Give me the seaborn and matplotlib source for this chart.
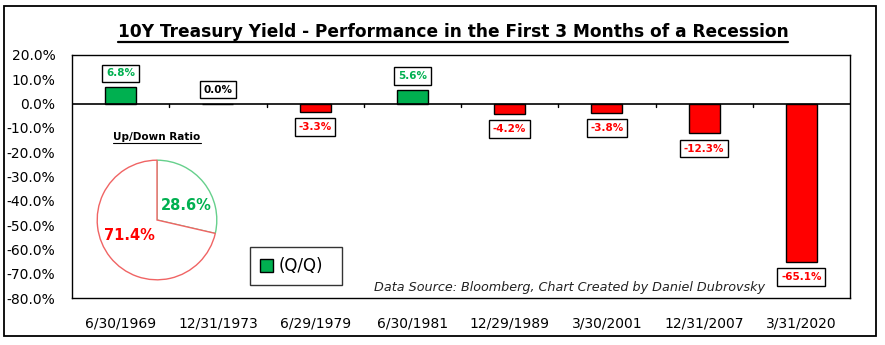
import matplotlib
matplotlib.use("Agg")
import matplotlib.pyplot as plt
import seaborn as sns
import pandas as pd
from matplotlib.patches import Rectangle, Patch
from matplotlib.lines import Line2D
from matplotlib.ticker import FuncFormatter

dates = ["6/30/1969", "12/31/1973", "6/29/1979", "6/30/1981",
         "12/29/1989", "3/30/2001", "12/31/2007", "3/31/2020"]
values = [6.8, 0.0, -3.3, 5.6, -4.2, -3.8, -12.3, -65.1]
labels = ["6.8%", "0.0%", "-3.3%", "5.6%", "-4.2%", "-3.8%", "-12.3%", "-65.1%"]
pie_labels = ["Up", "Down"]
pie_values = [28.6, 71.4]
pie_texts = ["28.6%", "71.4%"]
title = "10Y Treasury Yield - Performance in the First 3 Months of a Recession"
source = "Data Source: Bloomberg, Chart Created by Daniel Dubrovsky"

GREEN = "#00B050"
RED = "#FF0000"

sns.set_theme(style="white")
plt.rcParams["font.family"] = ["DejaVu Sans"]
plt.rcParams["text.color"] = "black"
plt.rcParams["xtick.color"] = "black"
plt.rcParams["ytick.color"] = "black"
plt.rcParams["axes.labelcolor"] = "black"

df = pd.DataFrame({"date": dates, "value": [v / 100 for v in values]})
df["sign"] = ["up" if v > 0 else ("flat" if v == 0 else "down") for v in values]

fig = plt.figure(figsize=(8.85, 3.45), dpi=100)
ax = fig.add_axes([72 / 885, 1 - 298 / 345, (850 - 72) / 885, (298 - 55) / 345])

sns.barplot(data=df, x="date", y="value", hue="sign",
            palette={"up": GREEN, "flat": GREEN, "down": RED},
            dodge=False, width=0.32, edgecolor="black", linewidth=1.0,
            saturation=1, legend=False, ax=ax)

ax.set_ylim(-0.8, 0.2)
ax.set_xlim(-0.5, len(dates) - 0.5)
ax.set_yticks([i / 10 for i in range(-8, 3)])
ax.yaxis.set_major_formatter(FuncFormatter(lambda v, p: f"{v*100:.1f}%".replace("\u2212", "-")))
ax.tick_params(axis="y", length=0, labelsize=10, pad=12)
ax.tick_params(axis="x", length=0, labelsize=10, pad=13)
ax.set_xlabel("")
ax.set_ylabel("")
for s in ax.spines.values():
    s.set_visible(True)
    s.set_color("black")
    s.set_linewidth(1.0)
ax.grid(False)

# zero line with category-boundary ticks
ax.axhline(0, color="black", linewidth=1.2, zorder=3)
for k in range(1, len(dates)):
    ax.plot([k - 0.5, k - 0.5], [0, -0.012], color="black", lw=1.0, zorder=3)

# data labels
for i, (v, lab) in enumerate(zip(values, labels)):
    col = GREEN if v > 0 else ("black" if v == 0 else RED)
    off = 10 if v >= 0 else -11
    ax.annotate(lab, (i, v / 100), xytext=(0, off), textcoords="offset points",
                ha="center", va="center", fontsize=7.5, fontweight="bold", color=col,
                bbox=dict(boxstyle="square,pad=0.35", fc="white", ec="black", lw=1.0),
                zorder=5)

# legend
leg = ax.legend(handles=[Patch(facecolor=GREEN, edgecolor="black", label="(Q/Q)")],
                loc="lower left", bbox_to_anchor=(0.229, 0.053, 0.118, 0.173),
                mode="expand", frameon=True, fancybox=False, fontsize=12,
                handlelength=0.8, handleheight=0.8, handletextpad=0.3,
                borderpad=0.6, borderaxespad=0)
leg.get_frame().set_edgecolor("black")
leg.get_frame().set_linewidth(1.0)

# source
ax.text(0.891, 0.045, source, transform=ax.transAxes, ha="right", va="center",
        fontsize=9.2, style="italic", color="#222222")

# pie inset
pax = fig.add_axes([96 / 885, 1 - 281 / 345, 122 / 885, 122 / 345])
wedges, _ = pax.pie(pie_values, startangle=90, counterclock=False,
                    colors=["white", "white"], radius=1.0,
                    wedgeprops=dict(linewidth=1.0))
wedges[0].set_edgecolor("#66D08C")
wedges[1].set_edgecolor("#F06464")
pax.set_xlim(-1.02, 1.02)
pax.set_ylim(-1.02, 1.02)
pax.set_aspect("equal")
pax.axis("off")
fig.text(186 / 885, 1 - 205 / 345, pie_texts[0], color=GREEN, fontsize=10.5,
         fontweight="bold", ha="center", va="center")
fig.text(129 / 885, 1 - 236 / 345, pie_texts[1], color=RED, fontsize=10.5,
         fontweight="bold", ha="center", va="center")

# title and sub-title with underline
t = fig.text(453 / 885, 1 - 32 / 345, title, ha="center", va="center",
             fontsize=16, fontweight="bold")
u = fig.text(157 / 885, 1 - 137 / 345, "Up/Down Ratio", ha="center", va="center",
             fontsize=7.5, fontweight="bold")
fig.canvas.draw()
r = fig.canvas.get_renderer()
bb = t.get_window_extent(r)
t.set_fontsize(16 * (789 - 117) / bb.width)
fig.canvas.draw()
inv = fig.transFigure.inverted()
for txt, lw in ((t, 1.6), (u, 0.8)):
    bb = txt.get_window_extent(r)
    (x0, y0), (x1, y1) = inv.transform([(bb.x0, bb.y0), (bb.x1, bb.y1)])
    fig.add_artist(Line2D([x0, x1], [y0 - 0.004, y0 - 0.004], color="black",
                          lw=lw, transform=fig.transFigure))

# outer frame
fig.add_artist(Rectangle((4 / 885, 1 - 336 / 345), (876 - 4) / 885, (336 - 6) / 345,
                         fill=False, ec="black", lw=1.3, transform=fig.transFigure))

fig.savefig("out.png", dpi=100)
